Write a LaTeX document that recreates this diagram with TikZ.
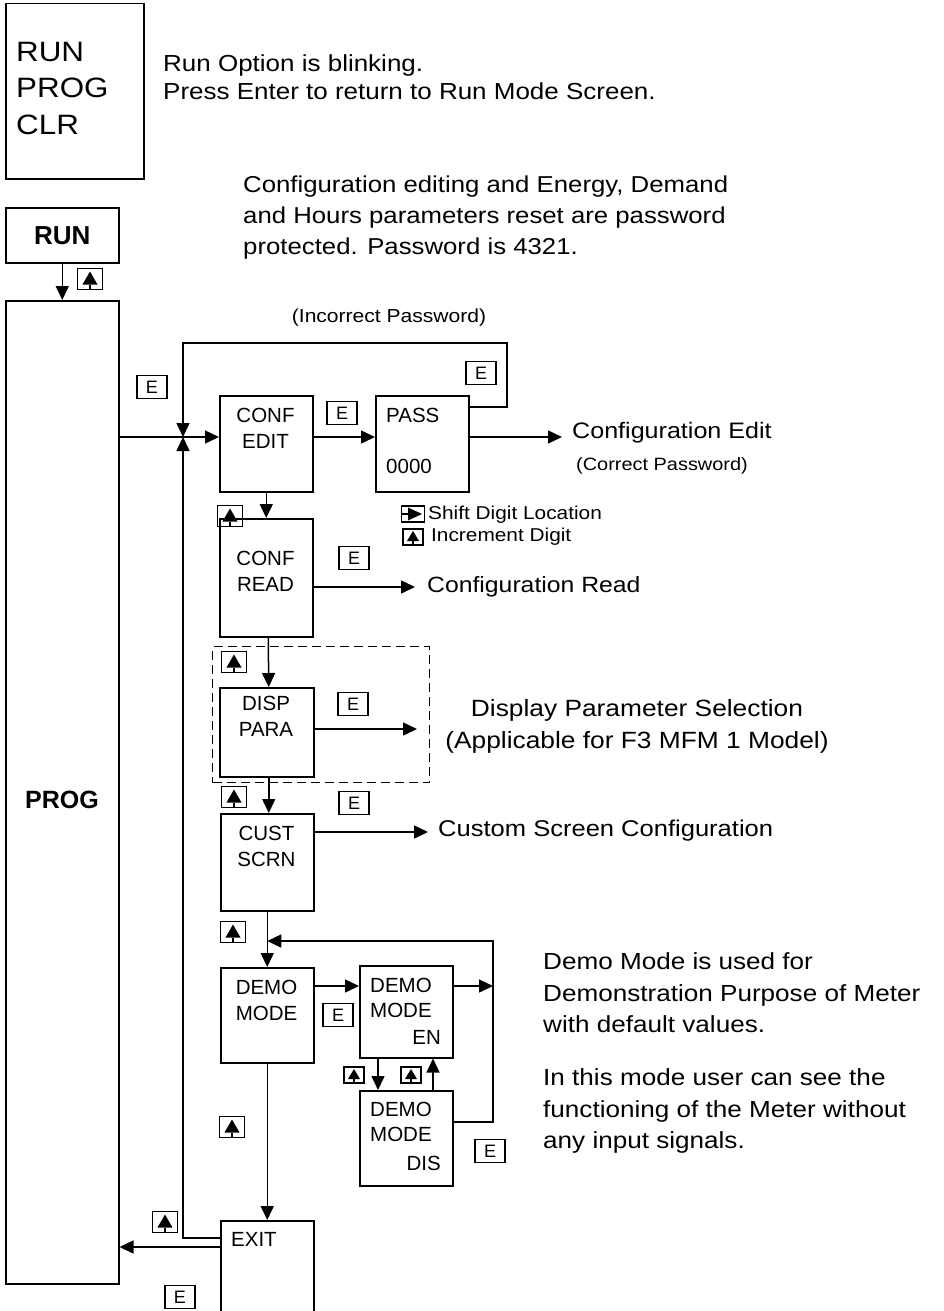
\documentclass[tikz,border=0pt]{standalone}
\usepackage{fontspec}
\setmainfont{Liberation Sans}
\newfontfamily\widefont{Liberation Sans}[FakeStretch=1.12]
\usetikzlibrary{arrows.meta}
\tikzset{
 box/.style={draw, line width=1.5pt, inner sep=0pt, anchor=north west},
 btxt/.style={inner sep=0pt, align=center, font=\fontsize{20.5}{26}\selectfont},
 bltxt/.style={inner sep=0pt, align=left, anchor=west, font=\fontsize{20.5}{24.5}\selectfont},
 ltxt/.style={inner sep=0pt, align=left, anchor=west},
 ekey/.style={draw, line width=1.2pt, minimum width=30pt, minimum height=23pt, inner sep=0pt, font=\fontsize{18}{18}\selectfont},
 arr/.style={line width=1.5pt, -{Triangle[length=14pt,width=13pt]}},
 upkey/.pic={
   \draw[line width=1.2pt] (-12.5,-10.5) rectangle (12.5,10.5);
   \fill (0,-7.5) -- (-7.5,5.5) -- (7.5,5.5) -- cycle;
   \draw[line width=1.2pt] (0,5.5) -- (0,10.5);
 },
 smallupkey/.pic={
   \draw[line width=1.2pt] (-10,-8) rectangle (10,8);
   \fill (0,-6) -- (-6,4) -- (6,4) -- cycle;
   \draw[line width=1.2pt] (0,4) -- (0,8);
 },
 shiftkey/.pic={
   \draw[line width=1.2pt] (-11.5,-8) rectangle (11.5,8);
   \fill (9,0) -- (-5,-6.5) -- (-5,6.5) -- cycle;
   \draw[line width=1.2pt] (-11.5,0) -- (-5,0);
 },
}
\begin{document}
\begin{tikzpicture}[x=1pt,y=-1pt]
\useasboundingbox (0,0) rectangle (943,1311);

% top menu box
\node[box, minimum width=138pt, minimum height=175pt] (menu) at (5,3) {};
\node[ltxt, font=\widefont\fontsize{28}{36.5}\selectfont] (menuT) at (16,88.5) {RUN\\PROG\\CLR};
\node[ltxt, font=\widefont\fontsize{23.2}{28}\selectfont] (note1) at (163,77) {Run Option is blinking.\\Press Enter to return to Run Mode Screen.};
\node[ltxt, font=\widefont\fontsize{23}{31}\selectfont] (note2) at (243,218) {Configuration editing and Energy, Demand\\and Hours parameters reset are password\\protected. Password is 4321.};

% RUN and PROG
\node[box, minimum width=113pt, minimum height=55pt] (run) at (5,207) {};
\node[inner sep=0pt, font=\bfseries\fontsize{26}{26}\selectfont] (runT) at (run.center) {RUN};
\node[box, minimum width=113pt, minimum height=983pt] (prog) at (5,300) {};
\node[inner sep=0pt, font=\bfseries\fontsize{25}{25}\selectfont] (progT) at (62,800) {PROG};
\draw[arr] (run.south) -- (prog.north);
\pic (u0) at (90,279) {upkey};

% CONF EDIT and PASS
\node[box, minimum width=93pt, minimum height=96pt] (ce) at (219,395) {};
\node[btxt] (ceT) at (265.5,428) {CONF\\EDIT};
\node[box, minimum width=93pt, minimum height=96pt] (pass) at (375,395) {};
\node[ltxt, font=\fontsize{20.5}{20.5}\selectfont] (passT) at (386,415) {PASS};
\node[ltxt, font=\fontsize{20.5}{20.5}\selectfont] (passN) at (386,466) {0000};
\coordinate (J) at (183,437);
\coordinate (L1) at (507,407);
\coordinate (L2) at (183,343);
\coordinate (X1) at (183,1238);
\coordinate (X2) at (150,1247);
\coordinate (CEend) at (562,437);
\draw[arr] (prog.east |- J) -- (ce.west |- J);
\draw[arr] (ce.east |- J) -- (pass.west |- J);
\draw[arr] (pass.east |- L1) -- (L1) |- (L2) -- (J);
\draw[arr] (pass.east |- J) -- (CEend);
\node[ekey] (e1) at (152,387) {E};
\node[ekey] (e2) at (342,413) {E};
\node[ekey] (e3) at (481,373) {E};
\node[inner sep=0pt, font=\widefont\fontsize{18.8}{18.8}\selectfont] (incorrect) at (389,318) {(Incorrect Password)};
\node[ltxt, font=\widefont\fontsize{22.4}{22.4}\selectfont] (cfgEdit) at (572,433) {Configuration Edit};
\node[inner sep=0pt, font=\widefont\fontsize{17.8}{17.8}\selectfont] (correct) at (662,466) {(Correct Password)};

% legend
\pic (sk) at (413,514) {shiftkey};
\node[ltxt, font=\widefont\fontsize{18.6}{18.6}\selectfont] (legS) at (428,515) {Shift Digit Location};
\pic (ik) at (413,537) {smallupkey};
\node[ltxt, font=\widefont\fontsize{18.6}{18.6}\selectfont] (legI) at (431,537) {Increment Digit};

% CONF READ
\node[box, minimum width=93pt, minimum height=118pt] (cr) at (219,518) {};
\node[btxt] (crT) at (265.5,571) {CONF\\READ};
\draw[arr] (ce.south) -- (cr.north);
\pic (u1) at (230,516) {upkey};
\node[ekey] (e4) at (354,558) {E};
\coordinate (R1) at (415,587);
\draw[arr] (cr.east |- R1) -- (R1);
\node[ltxt, font=\widefont\fontsize{22.1}{22.1}\selectfont] (cfgRead) at (427,587) {Configuration Read};

% DISP PARA
\node[draw, dash pattern=on 9pt off 5pt, line width=1.4pt, inner sep=0pt, anchor=north west, minimum width=217pt, minimum height=136pt] (dash) at (212,646) {};
\node[box, minimum width=94pt, minimum height=89pt] (dp) at (219,687) {};
\node[btxt] (dpT) at (266,716) {DISP\\PARA};
\draw[arr] ([xshift=2pt]cr.south) -- ([xshift=2pt]dp.north);
\pic (u2) at (234,662) {upkey};
\node[ekey] (e5) at (353,704) {E};
\coordinate (P1) at (417,729);
\draw[arr] (dp.east |- P1) -- (P1);
\node[inner sep=0pt, align=center, font=\widefont\fontsize{23.5}{32}\selectfont] (dispT) at (637,726) {Display Parameter Selection\\(Applicable for F3 MFM 1 Model)};

% CUST SCRN
\node[box, minimum width=93pt, minimum height=97pt] (cs) at (220,813) {};
\node[btxt] (csT) at (266.5,846) {CUST\\SCRN};
\draw[arr] ([xshift=2pt]dp.south) -- ([xshift=1.5pt]cs.north);
\pic (u3) at (234,797) {upkey};
\node[ekey] (e6) at (354,803) {E};
\coordinate (S1) at (428,832);
\draw[arr] (cs.east |- S1) -- (S1);
\node[ltxt, font=\widefont\fontsize{22.8}{22.8}\selectfont] (custT) at (438,831) {Custom Screen Configuration};

% DEMO MODE
\node[box, minimum width=93pt, minimum height=95pt] (dm) at (220,967) {};
\node[btxt] (dmT) at (266.5,1000) {DEMO\\MODE};
\draw[arr] (cs.south) -- (dm.north);
\pic (u4) at (233,932) {upkey};
\node[box, minimum width=93pt, minimum height=92pt] (en) at (359,965) {};
\node[bltxt] (enT) at (370,998) {DEMO\\MODE};
\node[inner sep=0pt, anchor=east, font=\fontsize{20.5}{20.5}\selectfont] (enT2) at (441,1037) {EN};
\node[box, minimum width=93pt, minimum height=95pt] (ds) at (359,1090) {};
\node[bltxt] (dsT) at (370,1122) {DEMO\\MODE};
\node[inner sep=0pt, anchor=east, font=\fontsize{20.5}{20.5}\selectfont] (dsT2) at (441,1163) {DIS};
\coordinate (A1) at (300,986);
\coordinate (D1) at (493,941);
\coordinate (D2) at (493,1122);
\coordinate (B1) at (378,1000);
\coordinate (B2) at (433,1000);
\draw[arr] (dm.east |- A1) -- (en.west |- A1);
\draw[arr] (en.east |- A1) -- (D1 |- A1);
\draw[arr] (ds.east |- D2) -- (D2) -- (D1) -- (cs.south |- D1);
\draw[arr] (en.south -| B1) -- (ds.north -| B1);
\draw[arr] (ds.north -| B2) -- (en.south -| B2);
\node[ekey] (e7) at (338,1015) {E};
\pic (u5) at (354,1075) {smallupkey};
\pic (u6) at (411,1075) {smallupkey};
\node[ekey] (e8) at (490,1151) {E};
\pic (u7) at (232,1127) {upkey};
\node[ltxt, font=\widefont\fontsize{23.3}{31.5}\selectfont] (demoT1) at (543,993) {Demo Mode is used for\\Demonstration Purpose of Meter\\with default values.};
\node[ltxt, font=\widefont\fontsize{23.3}{31.5}\selectfont] (demoT2) at (543,1111) {In this mode user can see the\\functioning of the Meter without\\any input signals.};

% EXIT
\node[box, minimum width=93pt, minimum height=110pt] (exit) at (220,1220) {};
\node[ltxt, font=\fontsize{20.5}{20.5}\selectfont] (exitT) at (231,1239) {EXIT};
\draw[arr] (dm.south) -- (exit.north);
\draw[arr] (exit.west |- X1) -- (X1) -- (J);
\draw[arr] (exit.west |- X2) -- (prog.east |- X2);
\pic (u8) at (165,1222) {upkey};
\node[ekey] (e9) at (180,1297) {E};
\end{tikzpicture}
\end{document}
